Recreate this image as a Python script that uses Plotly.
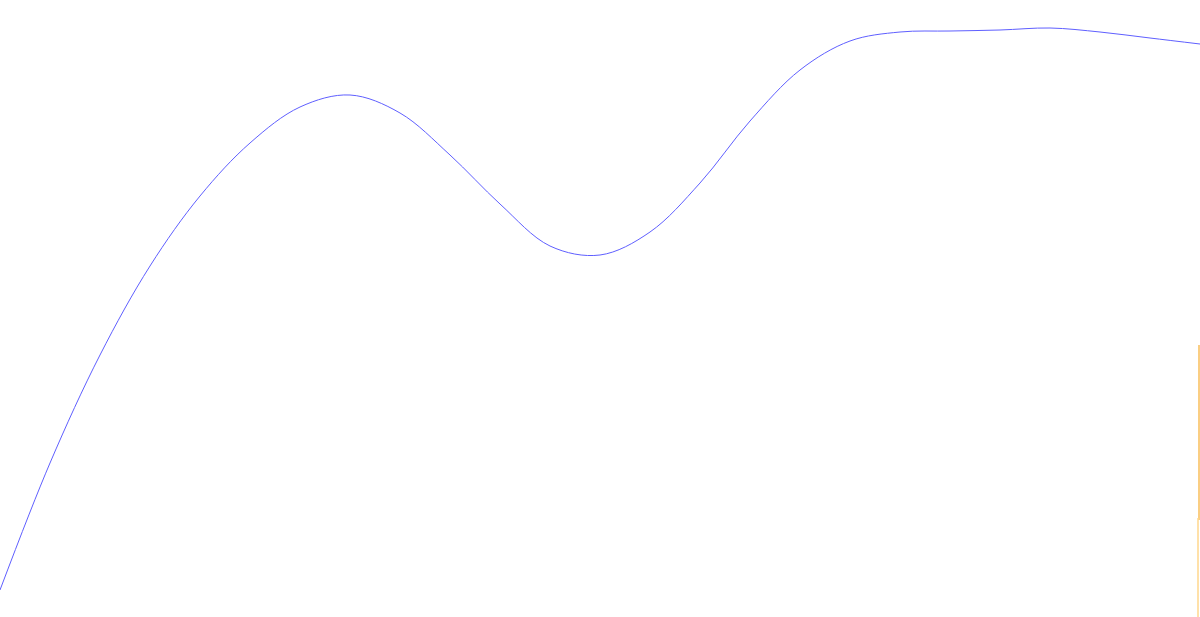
import plotly.graph_objects as go

# ---------- Data ----------

# blue curve, sampled every 50 units along x
curve_x = list(range(0, 1201, 50))
curve_y = [27, 154, 262, 351, 421, 474, 510, 522, 504, 462, 413, 371, 362,
           385, 434, 496, 547, 576, 585, 586, 587, 589, 585, 579, 573]

# thin marks cut off at the right edge
orange_x = [1199, 1199]
orange_y = [97, 272]
yellow_x = [1198, 1198]
yellow_y = [0, 99]

# ---------- Plotly Visualization ----------

fig = go.Figure()

fig.add_trace(go.Scatter(
    x=curve_x, y=curve_y,
    mode="lines",
    line=dict(color="rgb(95,95,255)", width=1, shape="spline", smoothing=1),
    hoverinfo="skip",
))

fig.add_trace(go.Scatter(
    x=orange_x, y=orange_y,
    mode="lines",
    line=dict(color="rgb(248,190,90)", width=1.5),
    hoverinfo="skip",
))

fig.add_trace(go.Scatter(
    x=yellow_x, y=yellow_y,
    mode="lines",
    line=dict(color="rgb(255,215,140)", width=1.5),
    hoverinfo="skip",
))

fig.update_layout(
    width=1200,
    height=617,
    margin=dict(l=0, r=0, t=0, b=0),
    paper_bgcolor="white",
    plot_bgcolor="white",
    showlegend=False,
    xaxis=dict(range=[0, 1200], visible=False, fixedrange=True),
    yaxis=dict(range=[0, 617], visible=False, fixedrange=True),
)

# page has a default 8px body margin; drop it so the plot fills the window
fig.write_html(
    "out.html",
    config={"displayModeBar": False},
    post_script="document.body.style.margin='0';document.body.style.overflow='hidden';",
)
